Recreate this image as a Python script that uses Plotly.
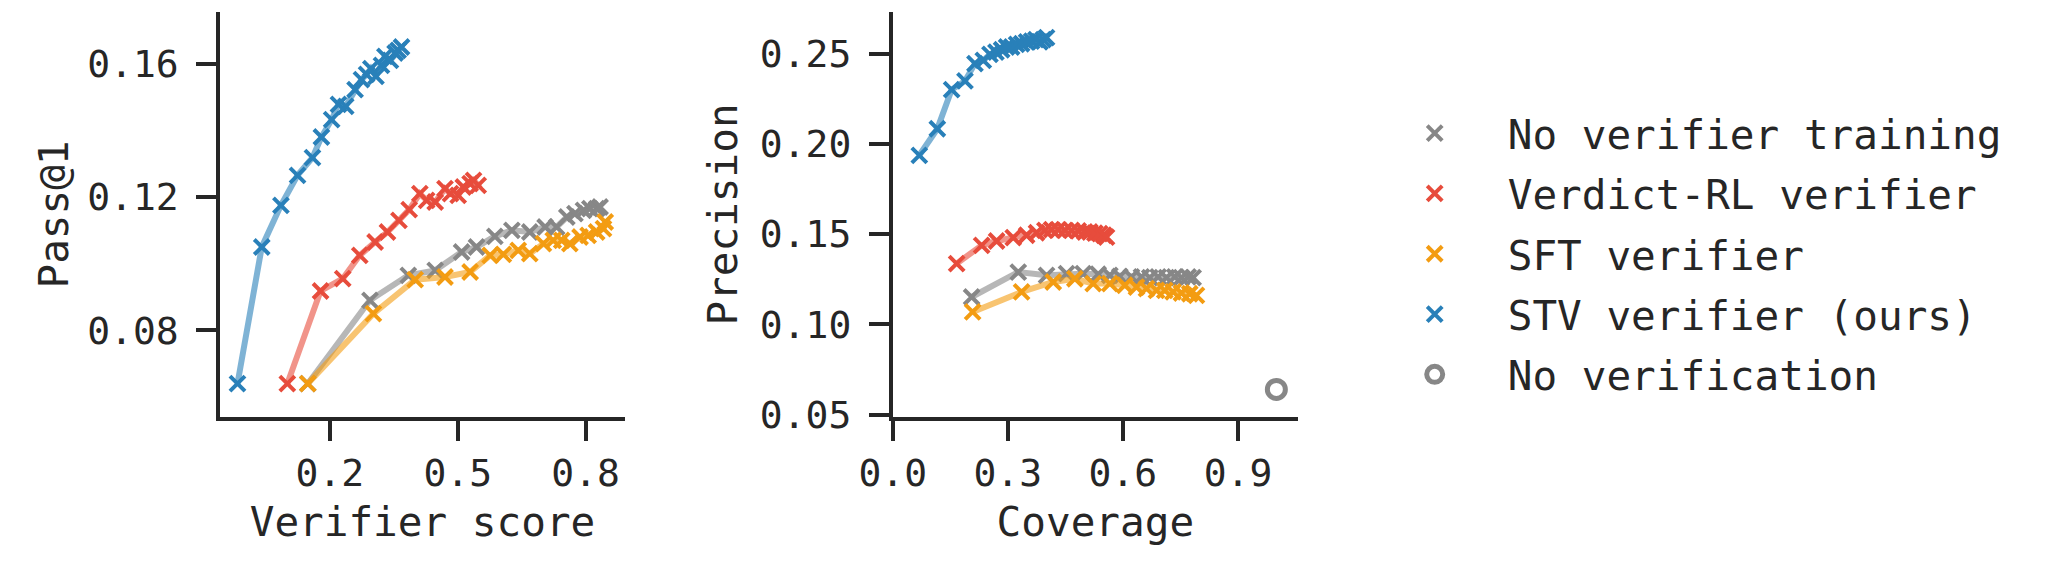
import plotly.graph_objects as go

# ---------------- data ----------------
series_names = ["No verifier training", "Verdict-RL verifier", "SFT verifier", "STV verifier (ours)"]
series_colors = ["#878787", "#e74c3c", "#f39c12", "#2980b9"]
line_colors = ["rgba(135,135,135,0.6)", "rgba(231,76,60,0.6)", "rgba(243,156,18,0.6)", "rgba(41,128,185,0.6)"]

# Left panel: Verifier score vs Pass@1
score_gray = [0.148, 0.294, 0.384, 0.447, 0.509, 0.544, 0.587, 0.627, 0.669, 0.705, 0.732, 0.756, 0.775, 0.795, 0.810, 0.826, 0.834]
pass_gray = [0.064, 0.089, 0.0965, 0.098, 0.1035, 0.105, 0.1082, 0.110, 0.1095, 0.111, 0.111, 0.114, 0.115, 0.116, 0.1165, 0.1165, 0.117]
score_red = [0.100, 0.178, 0.230, 0.270, 0.306, 0.335, 0.362, 0.386, 0.411, 0.427, 0.447, 0.470, 0.483, 0.501, 0.513, 0.529, 0.537, 0.548]
pass_red = [0.064, 0.0918, 0.0955, 0.1025, 0.1065, 0.1095, 0.113, 0.1162, 0.121, 0.119, 0.1185, 0.1225, 0.121, 0.1205, 0.123, 0.124, 0.125, 0.1235]
score_orange = [0.148, 0.302, 0.400, 0.470, 0.529, 0.576, 0.607, 0.642, 0.669, 0.701, 0.724, 0.744, 0.763, 0.787, 0.806, 0.826, 0.842, 0.846]
pass_orange = [0.064, 0.085, 0.0952, 0.096, 0.0975, 0.1025, 0.1028, 0.104, 0.103, 0.106, 0.107, 0.107, 0.106, 0.108, 0.1085, 0.1095, 0.1105, 0.1125]
score_blue = [-0.017, 0.040, 0.085, 0.124, 0.159, 0.180, 0.204, 0.220, 0.237, 0.259, 0.274, 0.286, 0.296, 0.308, 0.321, 0.329, 0.342, 0.353, 0.360, 0.368]
pass_blue = [0.064, 0.105, 0.1175, 0.1265, 0.1318, 0.138, 0.1432, 0.1478, 0.1472, 0.1522, 0.1552, 0.1568, 0.1585, 0.1562, 0.1595, 0.1622, 0.161, 0.1632, 0.164, 0.165]

# Right panel: Coverage vs Precision
cov_gray = [0.2057, 0.3273, 0.4010, 0.4531, 0.4965, 0.5356, 0.5660, 0.5920, 0.6224, 0.6484, 0.6701, 0.6918, 0.7135, 0.7352, 0.7526, 0.7700, 0.7830]
prec_gray = [0.1152, 0.1290, 0.1272, 0.1281, 0.1281, 0.1278, 0.1272, 0.1266, 0.1263, 0.1263, 0.1259, 0.1263, 0.1259, 0.1263, 0.1259, 0.1263, 0.1259]
cov_red = [0.1667, 0.2318, 0.2708, 0.3142, 0.3490, 0.3750, 0.3967, 0.4141, 0.4314, 0.4488, 0.4661, 0.4835, 0.5009, 0.5139, 0.5269, 0.5399, 0.5503, 0.5573]
prec_red = [0.1337, 0.1438, 0.1462, 0.1481, 0.1494, 0.1508, 0.1521, 0.1525, 0.1525, 0.1521, 0.1521, 0.1518, 0.1512, 0.1512, 0.1506, 0.1503, 0.1494, 0.1484]
cov_orange = [0.2083, 0.3359, 0.4184, 0.4748, 0.5226, 0.5660, 0.6050, 0.6354, 0.6615, 0.6875, 0.7092, 0.7309, 0.7526, 0.7743, 0.7917]
prec_orange = [0.1069, 0.1180, 0.1235, 0.1253, 0.1226, 0.1226, 0.1217, 0.1207, 0.1198, 0.1189, 0.1189, 0.1180, 0.1174, 0.1170, 0.1161]
cov_blue = [0.0694, 0.1163, 0.1536, 0.1884, 0.2144, 0.2361, 0.2535, 0.2691, 0.2839, 0.2969, 0.3099, 0.3229, 0.3359, 0.3490, 0.3620, 0.3733, 0.3837, 0.3924, 0.4010]
prec_blue = [0.1937, 0.2084, 0.2301, 0.2349, 0.2445, 0.2463, 0.2496, 0.2509, 0.2522, 0.2537, 0.2537, 0.2552, 0.2555, 0.2565, 0.2570, 0.2578, 0.2565, 0.2578, 0.2589]

no_verif_cov = [1.0]
no_verif_prec = [0.064]
no_verif_name = "No verification"

left_x_ticks = [0.2, 0.5, 0.8]
left_x_labels = ["0.2", "0.5", "0.8"]
left_y_ticks = [0.08, 0.12, 0.16]
left_y_labels = ["0.08", "0.12", "0.16"]
right_x_ticks = [0.0, 0.3, 0.6, 0.9]
right_x_labels = ["0.0", "0.3", "0.6", "0.9"]
right_y_ticks = [0.05, 0.10, 0.15, 0.20, 0.25]
right_y_labels = ["0.05", "0.10", "0.15", "0.20", "0.25"]

left_data = [(score_gray, pass_gray), (score_red, pass_red), (score_orange, pass_orange), (score_blue, pass_blue)]
right_data = [(cov_gray, prec_gray), (cov_red, prec_red), (cov_orange, prec_orange), (cov_blue, prec_blue)]

# ---------------- figure ----------------
W, H = 2060, 585
FONT = "DejaVu Sans Mono"
INK = "#262626"
fig = go.Figure()

def add_series(xs, ys, i, xa, ya, legend):
    fig.add_trace(go.Scatter(x=xs, y=ys, mode="lines", xaxis=xa, yaxis=ya,
                             line=dict(color=line_colors[i], width=6),
                             showlegend=False, hoverinfo="skip", legendgroup="g%d" % i))
    fig.add_trace(go.Scatter(x=xs, y=ys, mode="markers", xaxis=xa, yaxis=ya,
                             name=series_names[i], showlegend=legend, legendrank=i + 1,
                             legendgroup="g%d" % i,
                             marker=dict(symbol="x-thin", size=15, color=series_colors[i],
                                         line=dict(color=series_colors[i], width=4))))

for i, (xs, ys) in enumerate(left_data):
    add_series(xs, ys, i, "x", "y", True)
for i, (xs, ys) in enumerate(right_data):
    add_series(xs, ys, i, "x2", "y2", False)

fig.add_trace(go.Scatter(x=no_verif_cov, y=no_verif_prec, mode="markers", xaxis="x2", yaxis="y2",
                         name=no_verif_name, legendrank=5, legendgroup="g4",
                         marker=dict(symbol="circle-open", size=18, color="#878787",
                                     line=dict(color="#878787", width=5))))

ydom = [168 / H, 573 / H]
axis_common = dict(showline=True, linecolor=INK, linewidth=3.5, ticks="outside", ticklen=20,
                   tickwidth=3.5, tickcolor=INK, showgrid=False, zeroline=False,
                   tickfont=dict(family=FONT, size=38, color=INK), automargin=False)
title_font = dict(family=FONT, size=41, color=INK)

fig.update_layout(
    width=W, height=H,
    margin=dict(l=0, r=0, t=0, b=0),
    paper_bgcolor="white", plot_bgcolor="white",
    font=dict(family=FONT, color=INK),
    xaxis=dict(domain=[220 / W, 625 / W], range=[-0.058, 0.8925], tickvals=left_x_ticks,
               ticktext=left_x_labels, title=dict(text="Verifier score", font=title_font, standoff=14),
               anchor="y", ticklabelstandoff=0, **axis_common),
    yaxis=dict(domain=ydom, range=[0.054, 0.1755], tickvals=left_y_ticks, ticktext=left_y_labels,
               title=dict(text="Pass@1", font=title_font, standoff=7), anchor="x",
               ticklabelstandoff=10, **axis_common),
    xaxis2=dict(domain=[892.7 / W, 1298 / W], range=[0.0, 1.0564], tickvals=right_x_ticks,
                ticktext=right_x_labels, title=dict(text="Coverage", font=title_font, standoff=14),
                anchor="y2", ticklabelstandoff=0, **axis_common),
    yaxis2=dict(domain=ydom, range=[0.0487, 0.2731], tickvals=right_y_ticks, ticktext=right_y_labels,
                title=dict(text="Precision", font=title_font, standoff=10), anchor="x2",
                ticklabelstandoff=10, **axis_common),
    legend=dict(x=1361.7 / W, xanchor="left", y=1 - 100 / H, yanchor="top",
                font=dict(family=FONT, size=41, color=INK), itemwidth=136,
                bgcolor="rgba(0,0,0,0)", borderwidth=0, traceorder="grouped", tracegroupgap=4),
)

fig.write_html("out.html")
